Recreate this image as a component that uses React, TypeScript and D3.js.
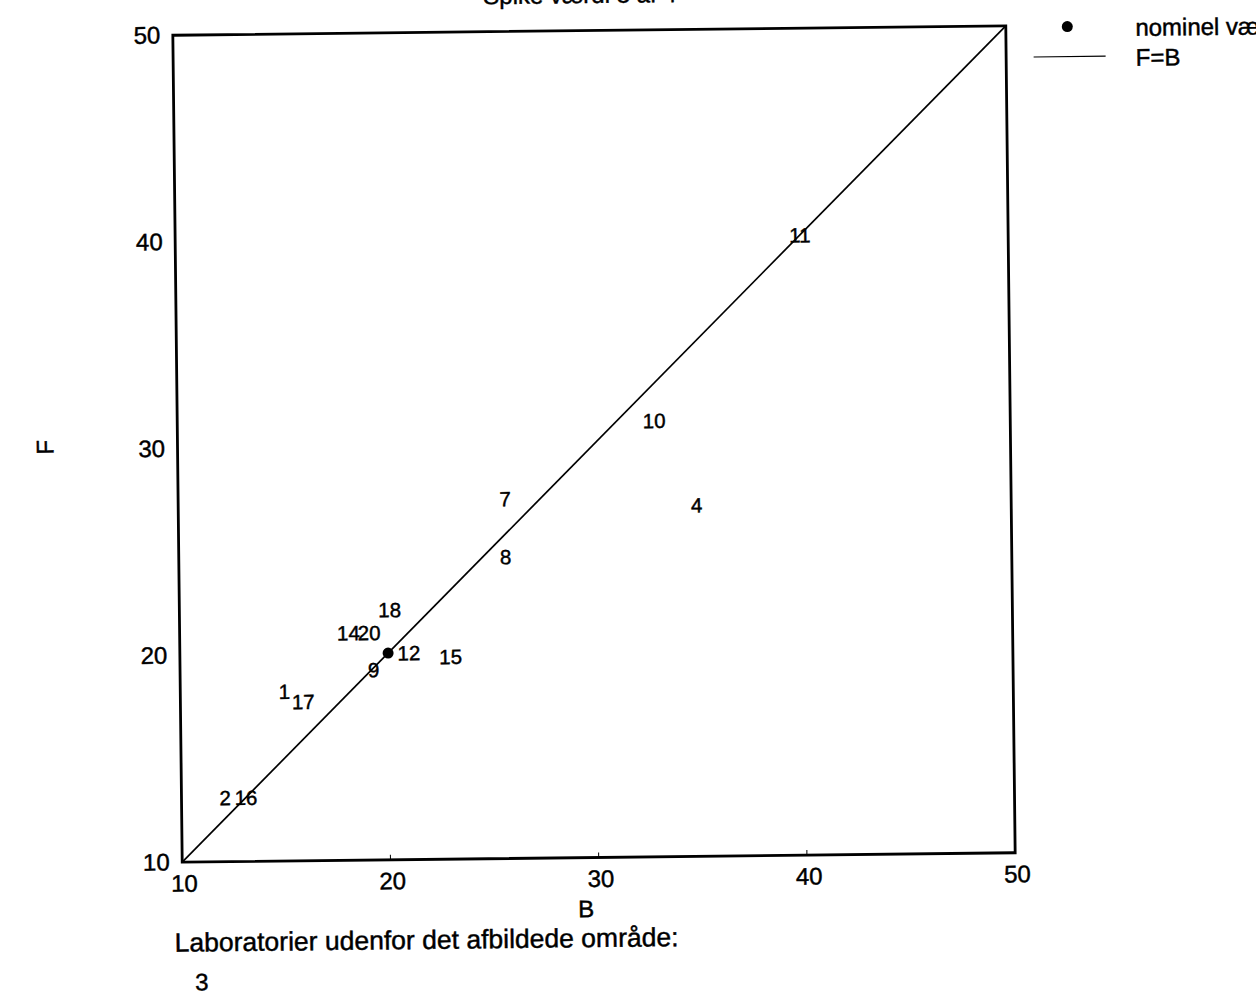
import React from "react";
import * as d3 from "d3";

// Laboratory results: B (x) against F (y)
const labIds = ["11", "10", "7", "4", "8", "18", "14", "20", "12", "15", "9", "1", "17", "2", "16"];
const bValues = [40.0, 32.9, 25.7, 34.9, 25.7, 20.1, 18.1, 19.1, 21.0, 23.0, 19.3, 15.0, 15.9, 12.1, 13.1];
const fValues = [40.0, 31.1, 27.4, 27.0, 24.6, 22.1, 21.0, 21.0, 20.0, 19.8, 19.2, 18.2, 17.7, 13.1, 13.1];

// Nominal value
const nominalB = [20];
const nominalF = [20];

const xTicks = [10, 20, 30, 40, 50];
const yTicks = [10, 20, 30, 40, 50];
const innerTicks = [20, 30, 40];
const outsideLabs = ["3"];

const W = 1256;
const H = 997;
const FONT = "'Liberation Sans', Arial, Helvetica, sans-serif";

// slightly heavier glyphs, like a printed plot
const ink = { fill: "#000", stroke: "#000", strokeWidth: 0.45 };

export default function App() {
  const x = d3.scaleLinear().domain([10, 50]).range([177.5, 1010.5]);
  const y = d3.scaleLinear().domain([10, 50]).range([857.5, 30.5]);
  const [x0, x1] = x.range();
  const [y0, y1] = y.range();
  const cx = (x0 + x1) / 2;
  const cy = (y0 + y1) / 2;

  const diag = d3.line<number>().x((d) => x(d)).y((d) => y(d));

  return (
    <svg
      width={W}
      height={H}
      style={{ position: "absolute", left: 0, top: 0, background: "#fff" }}
      fontFamily={FONT}
    >
      <rect width={W} height={H} fill="#fff" />
      <g transform={`rotate(-0.65, ${cx}, ${cy})`}>
        {/* title */}
        <text x={585} y={3} fontSize={24} textAnchor="middle" {...ink}>
          Spike værdi 3 af 4
        </text>

        {/* F = B reference line */}
        <path d={diag([10, 50]) || ""} fill="none" stroke="#000" strokeWidth={1.7} />

        {/* frame */}
        <rect
          x={x0}
          y={y1}
          width={x1 - x0}
          height={y0 - y1}
          fill="none"
          stroke="#000"
          strokeWidth={2.8}
        />

        {/* small inner ticks */}
        {innerTicks.map((t) => (
          <line key={"bt" + t} x1={x(t)} x2={x(t)} y1={y0} y2={y0 - 5} stroke="#000" strokeWidth={1} />
        ))}

        {/* x tick labels */}
        {xTicks.map((t) => (
          <text key={"xt" + t} x={x(t) + 2} y={887} fontSize={24} textAnchor="middle" {...ink}>
            {t}
          </text>
        ))}

        {/* y tick labels */}
        {yTicks.map((t) => (
          <text key={"yt" + t} x={165} y={y(t) + 8} fontSize={24} textAnchor="end" {...ink}>
            {t}
          </text>
        ))}

        {/* axis titles */}
        <text x={581} y={917} fontSize={24} textAnchor="middle" {...ink}>
          B
        </text>
        <text
          x={45}
          y={441}
          fontSize={24}
          textAnchor="middle"
          dominantBaseline="central"
          transform="rotate(-90, 45, 441)"
          {...ink}
        >
          F
        </text>

        {/* laboratory labels */}
        {labIds.map((id, i) => (
          <text
            key={"lab" + id}
            x={x(bValues[i])}
            y={y(fValues[i])}
            fontSize={20.5}
            textAnchor="middle"
            dominantBaseline="central"
            {...ink}
          >
            {id}
          </text>
        ))}

        {/* nominal value */}
        {nominalB.map((b, i) => (
          <circle key={"nom" + i} cx={x(b)} cy={y(nominalF[i])} r={5.5} fill="#000" />
        ))}

        {/* legend */}
        <circle cx={1072} cy={32} r={5.5} fill="#000" />
        <text x={1140} y={42} fontSize={24} {...ink}>
          nominel værdi
        </text>
        <line x1={1038} x2={1110} y1={62} y2={62} stroke="#000" strokeWidth={1.2} />
        <text x={1140} y={72} fontSize={24} {...ink}>
          F=B
        </text>

        {/* footnote */}
        <text x={169} y={947} fontSize={26.5} {...ink}>
          Laboratorier udenfor det afbildede område:
        </text>
        {outsideLabs.map((id, i) => (
          <text key={"out" + id} x={189 + i * 30} y={986} fontSize={24} {...ink}>
            {id}
          </text>
        ))}
      </g>
    </svg>
  );
}
